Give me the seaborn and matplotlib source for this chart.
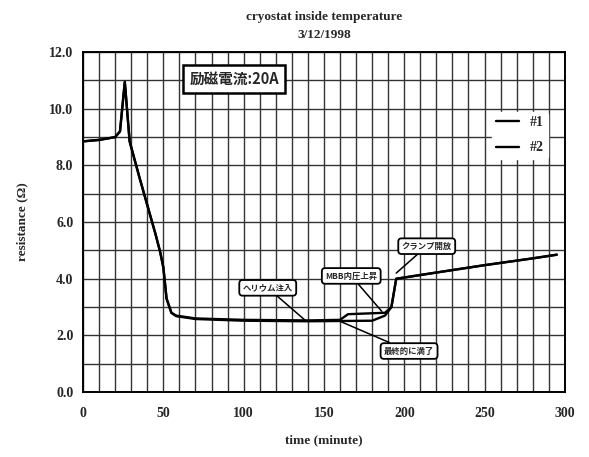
import numpy as np
import pandas as pd
import matplotlib
matplotlib.use("Agg")
import matplotlib.pyplot as plt
import seaborn as sns

# Resistance of the cryostat sensor over time (minutes)
time_1 = [0, 10, 20, 23, 26, 29, 35, 45, 48, 50, 52, 55, 58, 70, 100, 140, 180, 188, 192, 195, 220, 250, 280, 295]
res_1 = [8.85, 8.9, 9.0, 9.2, 10.95, 8.85, 7.6, 5.6, 4.95, 4.4, 3.3, 2.8, 2.68, 2.58, 2.52, 2.5, 2.52, 2.7, 3.0, 4.0, 4.22, 4.48, 4.72, 4.85]

time_2 = [0, 10, 20, 23, 26, 29, 35, 45, 48, 50, 52, 55, 58, 70, 100, 140, 160, 165, 188, 192, 195, 220, 250, 280, 295]
res_2 = [8.85, 8.9, 9.0, 9.2, 10.95, 8.85, 7.6, 5.6, 4.95, 4.4, 3.3, 2.8, 2.7, 2.6, 2.55, 2.53, 2.55, 2.75, 2.8, 3.0, 4.0, 4.22, 4.48, 4.72, 4.85]

series_names = ["#1", "#2"]
x_ticks = [0, 50, 100, 150, 200, 250, 300]
y_ticks = [0.0, 2.0, 4.0, 6.0, 8.0, 10.0, 12.0]

df = pd.concat([
    pd.DataFrame({"time": time_1, "resistance": res_1, "run": series_names[0]}),
    pd.DataFrame({"time": time_2, "resistance": res_2, "run": series_names[1]}),
])

sns.set_style("white")
plt.rcParams["font.family"] = ["Liberation Serif", "Noto Sans CJK JP"]

fig = plt.figure(figsize=(5.89, 4.57), dpi=100)
ax = fig.add_axes([0.141, 0.142, 0.818, 0.744])

sns.lineplot(data=df, x="time", y="resistance", hue="run",
             palette=["black", "black"], linewidth=1.7, ax=ax, sort=False)

ax.set_xlim(0, 300)
ax.set_ylim(0, 12)
ax.set_xticks(x_ticks)
ax.set_xticklabels([str(v) for v in x_ticks], fontsize=10, fontweight="bold")
ax.set_yticks(y_ticks)
ax.set_yticklabels([f"{v:.1f}" for v in y_ticks], fontsize=10, fontweight="bold")
ax.set_xticks(np.arange(0, 301, 10), minor=True)
ax.set_yticks(np.arange(0, 12.1, 1.0), minor=True)
ax.grid(True, which="both", color="#333333", linewidth=1.0)
ax.tick_params(axis="x", which="both", length=0, pad=11)
ax.tick_params(axis="y", which="both", length=0, pad=7)
for s in ax.spines.values():
    s.set_color("black")
    s.set_linewidth(1.4)

ax.set_xlabel("time (minute)", fontsize=9.5, fontweight="bold", labelpad=10)
ax.set_ylabel("resistance (Ω)", fontsize=9.5, fontweight="bold",
              family=["Liberation Serif", "DejaVu Sans"], labelpad=15)
ax.set_title("cryostat inside temperature\n3/12/1998", fontsize=9.5,
             fontweight="bold", pad=10, linespacing=1.7)

leg = ax.legend(loc="upper left", bbox_to_anchor=(0.835, 0.845), frameon=True,
                handlelength=1.6, fontsize=10, labelspacing=0.9, borderpad=0.3)
leg.get_frame().set_edgecolor("white")
leg.get_frame().set_facecolor("white")
leg.get_frame().set_alpha(1)
for t in leg.get_texts():
    t.set_fontweight("bold")

jp = ["Noto Sans CJK JP", "DejaVu Sans"]
ax.text(94, 11.05, "励磁電流:20A", fontsize=10.5, fontweight="bold", family=jp,
        ha="center", va="center",
        bbox=dict(boxstyle="square,pad=0.4", fc="white", ec="black", lw=1.8))

callout = dict(boxstyle="round,pad=0.4,rounding_size=0.4", fc="white", ec="black", lw=1.3)
arrow = dict(arrowstyle="-", color="black", lw=1.1, shrinkA=0, shrinkB=0)

notes = [
    ("ヘリウム注入", (138, 2.55), (115, 3.68)),
    ("MBB内圧上昇", (186, 2.85), (167, 4.1)),
    ("クランプ開放", (195, 4.2), (214, 5.15)),
    ("最終的に満了", (160, 2.5), (203, 1.45)),
]
for label, xy, xytext in notes:
    ax.annotate(label, xy=xy, xytext=xytext, fontsize=6, family=jp,
                fontweight="bold", ha="center", va="center",
                bbox=callout, arrowprops=arrow, zorder=5)

fig.savefig("out.png", dpi=100)
